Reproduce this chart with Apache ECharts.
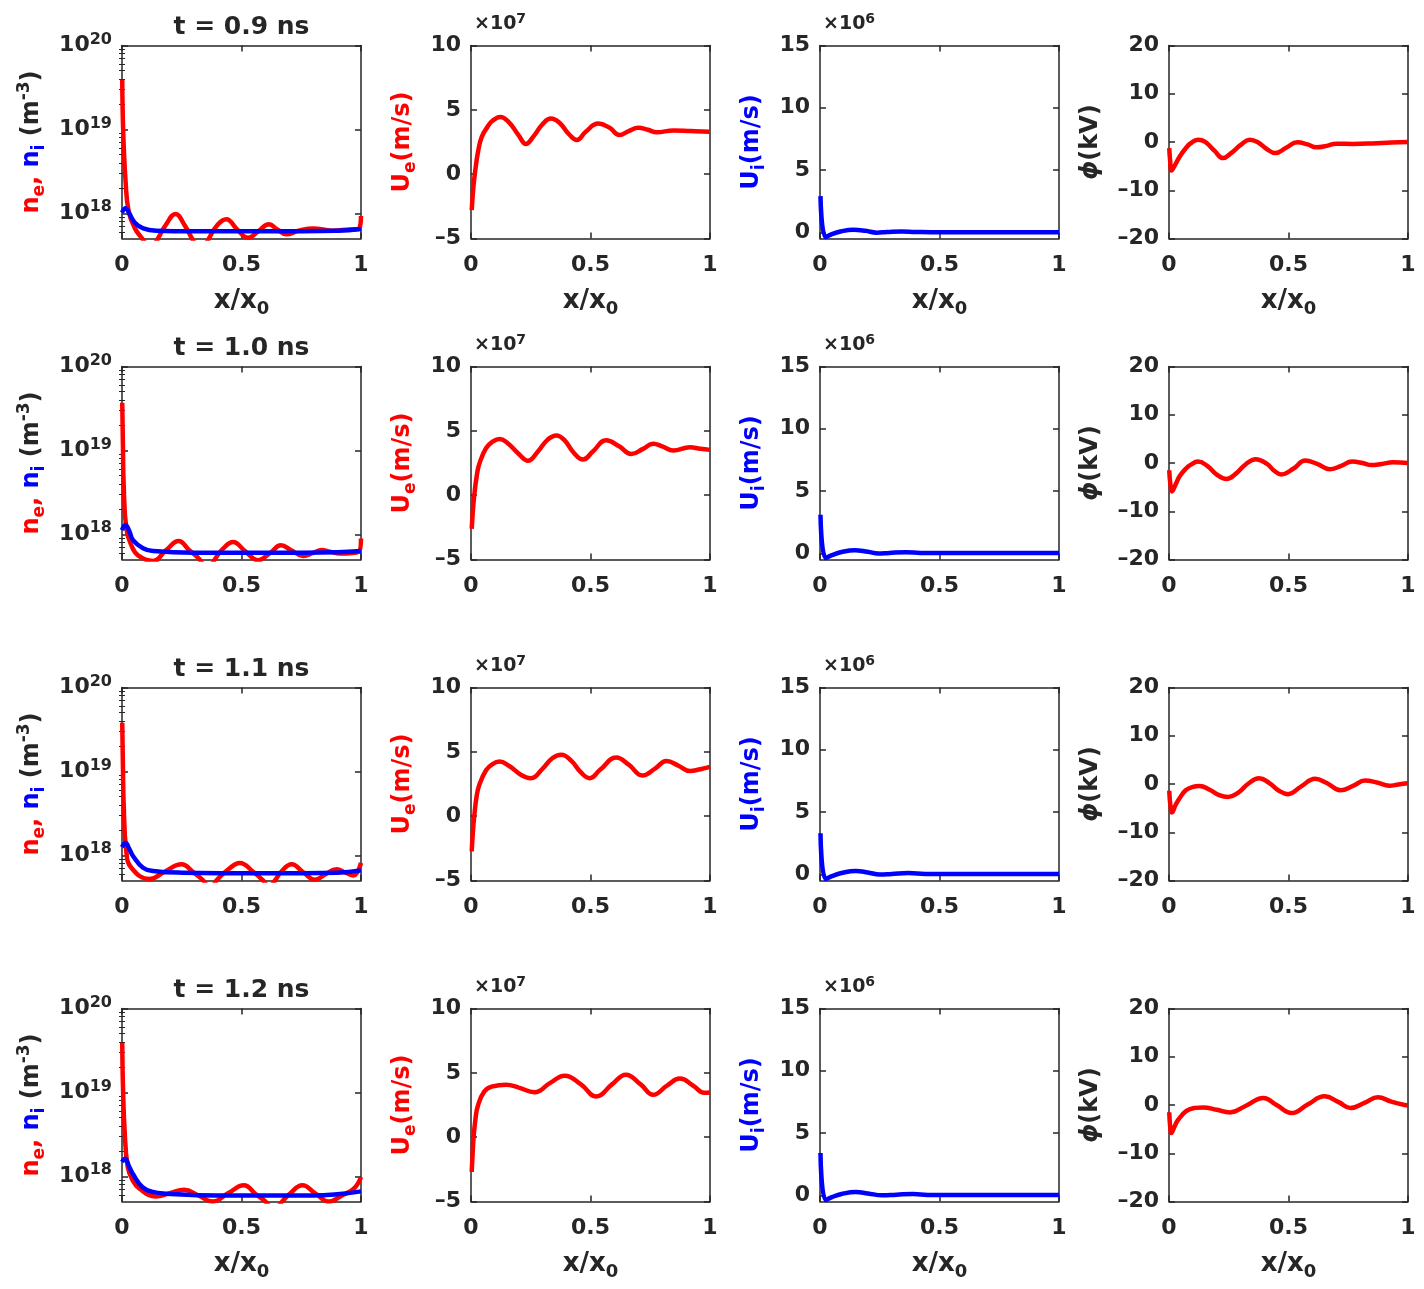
<!DOCTYPE html>
<html>
<head>
<meta charset="utf-8">
<script src="https://cdn.jsdelivr.net/npm/echarts@6/dist/echarts.min.js"></script>
<style>
  html, body { margin: 0; background: #fff; }
  #chart { width: 1424px; height: 1289px; }
</style>
</head>
<body>
<div id="chart"></div>
<script>
// time of each row
const times = ['0.9', '1.0', '1.1', '1.2'];

// tick values
const xTicks = [0, 0.5, 1];
const nTicks = [1e18, 1e19, 1e20];
const ueTicks = [-5, 0, 5, 10];
const uiTicks = [0, 5, 10, 15];
const phiTicks = [-20, -10, 0, 10, 20];

// electron density n_e (m^-3), [x/x0, n]
const ne09 = [[0.001,3.9e19],[0.005,9.5e18],[0.015,2.4e18],[0.028,1.05e18],[0.054,6.6e17],[0.089,4.8e17],[0.117,3.6e17],[0.145,4.7e17],[0.185,7.4e17],[0.224,9.8e17],[0.262,7.2e17],[0.298,4.7e17],[0.33,3.5e17],[0.36,4.8e17],[0.40,7.3e17],[0.437,8.5e17],[0.48,6.5e17],[0.527,5.1e17],[0.57,6.1e17],[0.615,7.4e17],[0.65,6.4e17],[0.687,5.6e17],[0.74,6.2e17],[0.80,6.6e17],[0.88,6.2e17],[0.95,6.4e17],[0.99,6.5e17],[1.0,9.3e17]];
const ne10 = [[0.001,3.7e19],[0.004,1.1e19],[0.007,3.9e18],[0.018,1.17e18],[0.039,7.4e17],[0.067,5.6e17],[0.13,4.8e17],[0.185,6.5e17],[0.237,8.3e17],[0.28,6.5e17],[0.325,5.0e17],[0.356,3.6e17],[0.388,5.0e17],[0.42,6.6e17],[0.465,8.1e17],[0.515,6.3e17],[0.57,4.9e17],[0.62,6.0e17],[0.665,7.4e17],[0.71,6.4e17],[0.758,5.5e17],[0.80,6.0e17],[0.835,6.5e17],[0.87,6.2e17],[0.912,5.9e17],[0.99,6.2e17],[1.0,8.9e17]];
const ne11 = [[0.001,3.8e19],[0.004,1.1e19],[0.007,4.1e18],[0.018,1.12e18],[0.039,7.1e17],[0.116,5.2e17],[0.18,6.4e17],[0.249,7.8e17],[0.30,6.2e17],[0.34,5.0e17],[0.37,3.9e17],[0.395,5.0e17],[0.44,6.6e17],[0.493,8.1e17],[0.55,6.3e17],[0.59,5.0e17],[0.615,4.2e17],[0.64,5.0e17],[0.665,6.3e17],[0.71,7.8e17],[0.76,6.2e17],[0.807,5.1e17],[0.85,5.9e17],[0.898,6.8e17],[0.935,6.2e17],[0.968,5.75e17],[1.0,8.1e17]];
const ne12 = [[0.001,3.9e19],[0.004,1.2e19],[0.011,3.5e18],[0.024,1.29e18],[0.045,8.9e17],[0.073,7.1e17],[0.142,5.75e17],[0.20,6.3e17],[0.26,6.9e17],[0.32,5.9e17],[0.38,5.0e17],[0.445,6.3e17],[0.51,7.8e17],[0.56,6.1e17],[0.60,5.0e17],[0.635,4.0e17],[0.67,5.0e17],[0.70,6.1e17],[0.755,7.8e17],[0.81,6.2e17],[0.866,5.0e17],[0.92,5.9e17],[0.97,7.1e17],[1.0,9.8e17]];

// ion density n_i (m^-3)
const ni09 = [[0.0,1.02e18],[0.015,1.15e18],[0.03,1.0e18],[0.054,7.7e17],[0.089,6.6e17],[0.145,6.2e17],[0.3,6.1e17],[0.6,6.1e17],[0.9,6.2e17],[1.0,6.5e17]];
const ni10 = [[0.0,1.12e18],[0.014,1.29e18],[0.03,1.1e18],[0.046,8.5e17],[0.088,6.8e17],[0.13,6.3e17],[0.3,6.0e17],[0.6,6.0e17],[0.9,6.1e17],[1.0,6.3e17]];
const ni11 = [[0.0,1.25e18],[0.015,1.4e18],[0.03,1.2e18],[0.046,9.8e17],[0.088,7.1e17],[0.13,6.5e17],[0.25,6.2e17],[0.6,6.1e17],[0.9,6.2e17],[1.0,6.6e17]];
const ni12 = [[0.0,1.48e18],[0.013,1.62e18],[0.03,1.3e18],[0.045,1.07e18],[0.086,7.4e17],[0.128,6.5e17],[0.184,6.2e17],[0.4,5.9e17],[0.8,5.9e17],[0.9,6.1e17],[1.0,6.6e17]];

// electron velocity U_e (x1e7 m/s)
const ue09 = [[0.003,-2.8],[0.01,-1.0],[0.018,0.3],[0.03,1.8],[0.045,2.9],[0.07,3.7],[0.09,4.15],[0.123,4.45],[0.16,4.0],[0.2,3.0],[0.23,2.35],[0.26,2.9],[0.3,3.9],[0.334,4.32],[0.37,4.0],[0.41,3.1],[0.443,2.65],[0.48,3.3],[0.533,3.93],[0.58,3.6],[0.621,3.05],[0.66,3.35],[0.70,3.6],[0.74,3.45],[0.777,3.25],[0.847,3.4],[0.92,3.35],[1,3.3]];
const ue10 = [[0.003,-2.61],[0.008,-1.2],[0.014,0.05],[0.024,1.5],[0.035,2.45],[0.063,3.65],[0.09,4.15],[0.119,4.37],[0.15,4.1],[0.2,3.2],[0.238,2.67],[0.28,3.4],[0.32,4.3],[0.357,4.64],[0.39,4.3],[0.43,3.3],[0.469,2.77],[0.51,3.4],[0.566,4.27],[0.62,3.8],[0.671,3.2],[0.72,3.6],[0.762,4.0],[0.8,3.8],[0.846,3.47],[0.916,3.73],[0.96,3.6],[1,3.52]];
const ue11 = [[0.003,-2.73],[0.008,-1.2],[0.014,0.08],[0.024,1.6],[0.035,2.44],[0.063,3.57],[0.09,4.05],[0.119,4.24],[0.16,3.9],[0.21,3.2],[0.249,2.95],[0.3,3.7],[0.34,4.5],[0.378,4.77],[0.42,4.3],[0.46,3.4],[0.497,2.95],[0.54,3.6],[0.608,4.56],[0.66,4.0],[0.717,3.16],[0.77,3.7],[0.818,4.29],[0.87,3.9],[0.916,3.51],[0.96,3.65],[1,3.83]];
const ue12 = [[0.003,-2.7],[0.007,-1.2],[0.011,0.03],[0.018,1.3],[0.028,2.38],[0.056,3.56],[0.091,3.95],[0.147,4.08],[0.2,3.85],[0.266,3.5],[0.33,4.2],[0.392,4.78],[0.46,4.1],[0.524,3.16],[0.59,4.1],[0.648,4.86],[0.71,4.1],[0.762,3.29],[0.82,4.0],[0.874,4.55],[0.93,4.0],[0.975,3.45],[1,3.48]];

// ion velocity U_i (x1e6 m/s)
const ui09 = [[0.002,2.9],[0.024,-0.38],[0.05,-0.15],[0.09,0.08],[0.14,0.2],[0.19,0.12],[0.237,-0.03],[0.28,0.02],[0.34,0.07],[0.4,0.03],[0.5,0.0],[0.7,0.01],[1,0.0]];
const ui10 = [[0.002,3.1],[0.024,-0.38],[0.05,-0.15],[0.09,0.1],[0.145,0.25],[0.2,0.12],[0.245,-0.02],[0.29,0.03],[0.36,0.08],[0.42,0.03],[0.5,0.02],[0.7,0.03],[1,0.02]];
const ui11 = [[0.002,3.3],[0.024,-0.38],[0.05,-0.15],[0.09,0.1],[0.15,0.27],[0.2,0.15],[0.25,-0.02],[0.3,0.03],[0.37,0.1],[0.44,0.03],[0.5,0.02],[0.7,0.03],[1,0.02]];
const ui12 = [[0.002,3.4],[0.024,-0.38],[0.05,-0.15],[0.09,0.1],[0.15,0.26],[0.2,0.15],[0.26,0.0],[0.32,0.05],[0.39,0.1],[0.45,0.03],[0.5,0.02],[0.7,0.03],[1,0.03]];

// potential phi (kV)
const phi09 = [[0.001,-1.25],[0.005,-4.0],[0.01,-5.9],[0.025,-4.8],[0.045,-3.0],[0.07,-1.3],[0.09,-0.3],[0.121,0.49],[0.15,0.1],[0.19,-1.8],[0.226,-3.34],[0.26,-2.3],[0.3,-0.6],[0.3375,0.49],[0.37,0.0],[0.41,-1.5],[0.445,-2.3],[0.49,-1.2],[0.537,-0.07],[0.58,-0.5],[0.616,-1.1],[0.66,-0.8],[0.70,-0.35],[0.77,-0.4],[0.85,-0.3],[0.93,-0.1],[1,0.0]];
const phi10 = [[0.001,-1.5],[0.006,-4.5],[0.0125,-5.9],[0.028,-4.4],[0.045,-2.7],[0.07,-1.2],[0.09,-0.4],[0.121,0.29],[0.16,-0.6],[0.2,-2.4],[0.24,-3.3],[0.28,-2.2],[0.32,-0.3],[0.363,0.79],[0.41,-0.2],[0.44,-1.6],[0.47,-2.36],[0.52,-1.2],[0.57,0.5],[0.62,-0.2],[0.672,-1.29],[0.72,-0.6],[0.766,0.29],[0.81,0.0],[0.847,-0.43],[0.89,-0.2],[0.937,0.14],[1,0.0]];
const phi11 = [[0.001,-1.4],[0.006,-4.5],[0.0125,-5.9],[0.028,-4.3],[0.045,-2.9],[0.07,-1.3],[0.1,-0.6],[0.128,-0.4],[0.17,-1.2],[0.21,-2.3],[0.247,-2.7],[0.29,-1.8],[0.33,0.0],[0.377,1.2],[0.42,0.2],[0.46,-1.4],[0.498,-2.1],[0.55,-0.6],[0.612,1.07],[0.66,0.2],[0.718,-1.3],[0.77,-0.4],[0.82,0.71],[0.87,0.3],[0.922,-0.36],[0.96,-0.1],[1,0.14]];
const phi12 = [[0.001,-1.5],[0.005,-4.5],[0.01,-5.8],[0.022,-4.6],[0.038,-3.1],[0.073,-1.2],[0.11,-0.6],[0.144,-0.5],[0.2,-1.0],[0.255,-1.53],[0.32,-0.2],[0.395,1.46],[0.45,0.0],[0.513,-1.67],[0.58,0.1],[0.651,1.8],[0.71,0.6],[0.76,-0.63],[0.82,0.5],[0.874,1.6],[0.93,0.7],[0.986,0.0],[1,-0.07]];

const neRows = [ne09, ne10, ne11, ne12];
const niRows = [ni09, ni10, ni11, ni12];
const ueRows = [ue09, ue10, ue11, ue12];
const uiRows = [ui09, ui10, ui11, ui12];
const phiRows = [phi09, phi10, phi11, phi12];

// layout
const FONT = 'DejaVu Sans';
const INK = '#262626';
const RED = '#ff0000';
const BLUE = '#0000ff';
const colLeft = [122, 471, 820, 1169];
const rowTop = [45.5, 366.5, 687.5, 1008.5];
const W = 239, H = 193;

// minor ticks of the log axis (2..9 x 10^k)
const logMinor = [];
for (let e = 17; e <= 19; e++) {
  for (let m = 2; m <= 9; m++) {
    const v = m * Math.pow(10, e);
    if (v > 5e17 && v < 1e20) logMinor.push(v);
  }
}

const dash = v => (v < 0 ? '\u2013' + (-v) : String(v));

const tickRich = {
  b: { fontSize: 22, fontWeight: 'bold', fontFamily: FONT, color: INK, lineHeight: 28 },
  s: { fontSize: 16, fontWeight: 'bold', fontFamily: FONT, color: INK, lineHeight: 16, verticalAlign: 'top' }
};

function nameStyle(color) {
  return { fontSize: 24, fontWeight: 'bold', fontFamily: FONT, color: color, lineHeight: 32 };
}
function subStyle(color) {
  return { fontSize: 17, fontWeight: 'bold', fontFamily: FONT, color: color, lineHeight: 22, verticalAlign: 'bottom' };
}
function supStyle(color) {
  return { fontSize: 17, fontWeight: 'bold', fontFamily: FONT, color: color, lineHeight: 20, verticalAlign: 'top' };
}

const yCfg = [
  {
    type: 'log', min: 5e17, max: 1e20, ticks: nTicks, minor: logMinor,
    fmt: v => '{b|10}{s|' + Math.round(Math.log10(v)) + '}',
    name: '{r|n}{rs|e}{r|, }{u|n}{us|i}{k| (m}{kp|-3}{k|)}',
    rich: { r: nameStyle(RED), rs: subStyle(RED), u: nameStyle(BLUE), us: subStyle(BLUE), k: nameStyle(INK), kp: supStyle(INK) },
    gap: 74
  },
  {
    type: 'value', min: -5, max: 10, interval: 5, ticks: ueTicks,
    fmt: v => '{b|' + dash(v) + '}',
    name: '{r|U}{rs|e}{r|(m/s)}',
    rich: { r: nameStyle(RED), rs: subStyle(RED) },
    gap: 52, exp: '7'
  },
  {
    type: 'value', min: -0.5, max: 15, ticks: uiTicks,
    fmt: v => '{b|' + dash(v) + '}',
    name: '{u|U}{us|i}{u|(m/s)}',
    rich: { u: nameStyle(BLUE), us: subStyle(BLUE) },
    gap: 52, exp: '6'
  },
  {
    type: 'value', min: -20, max: 20, interval: 10, ticks: phiTicks,
    fmt: v => '{b|' + dash(v) + '}',
    name: '{p|\u03d5}{k|(kV)}',
    rich: { p: Object.assign(nameStyle(INK), { fontStyle: 'italic' }), k: nameStyle(INK) },
    gap: 62
  }
];

const lineOf = r => [
  [[neRows[r], RED], [niRows[r], BLUE]],
  [[ueRows[r], RED]],
  [[uiRows[r], BLUE]],
  [[phiRows[r], RED]]
];

const option = {
  animation: false,
  backgroundColor: '#fff',
  grid: [], xAxis: [], yAxis: [], series: [], graphic: []
};

const axisLine = { show: true, onZero: false, lineStyle: { color: INK, width: 1.5 } };
const tickLine = { color: INK, width: 1.5 };

function xAxisDef(gi, pos, withLabels, withName) {
  const ax = {
    gridIndex: gi, type: 'value', position: pos, min: 0, max: 1, interval: 0.5,
    axisLine: axisLine,
    axisTick: { show: true, inside: true, length: 6, lineStyle: tickLine },
    axisLabel: { show: withLabels, margin: 13, formatter: v => '{b|' + v + '}', rich: tickRich },
    splitLine: { show: false }
  };
  if (withName) {
    ax.name = '{a|x/x}{s|0}';
    ax.nameLocation = 'middle';
    ax.nameGap = 46;
    ax.nameTextStyle = {
      rich: {
        a: { fontSize: 26, fontWeight: 'bold', fontFamily: FONT, color: INK, lineHeight: 34 },
        s: { fontSize: 18, fontWeight: 'bold', fontFamily: FONT, color: INK, lineHeight: 24, verticalAlign: 'bottom' }
      }
    };
  }
  return ax;
}

function yAxisDef(gi, cfg, pos, main) {
  const ax = {
    gridIndex: gi, type: cfg.type, position: pos, min: cfg.min, max: cfg.max,
    axisLine: axisLine,
    axisTick: { show: true, inside: true, length: 6, lineStyle: tickLine, customValues: cfg.ticks },
    axisLabel: { show: main, margin: 10, customValues: cfg.ticks, formatter: cfg.fmt, rich: tickRich },
    splitLine: { show: false }
  };
  if (cfg.type === 'log') ax.logBase = 10;
  if (main) {
    ax.name = cfg.name;
    ax.nameLocation = 'middle';
    ax.nameRotate = 90;
    ax.nameGap = cfg.gap;
    ax.nameTextStyle = { rich: cfg.rich };
  }
  return ax;
}

function minorAxisDef(gi, cfg, pos) {
  return {
    gridIndex: gi, type: cfg.type, logBase: 10, position: pos, min: cfg.min, max: cfg.max,
    axisLine: { show: false },
    axisTick: { show: true, inside: true, length: 3, lineStyle: { color: INK, width: 1 }, customValues: cfg.minor },
    axisLabel: { show: false, customValues: cfg.minor },
    splitLine: { show: false }
  };
}

for (let r = 0; r < 4; r++) {
  const lines = lineOf(r);
  for (let c = 0; c < 4; c++) {
    const cfg = yCfg[c];
    const gi = option.grid.length;
    option.grid.push({ left: colLeft[c], top: rowTop[r], width: W, height: H, outerBoundsMode: 'none' });

    const xi = option.xAxis.length;
    option.xAxis.push(xAxisDef(gi, 'bottom', true, r === 0 || r === 3));
    option.xAxis.push(xAxisDef(gi, 'top', false, false));

    const yi = option.yAxis.length;
    option.yAxis.push(yAxisDef(gi, cfg, 'left', true));
    option.yAxis.push(yAxisDef(gi, cfg, 'right', false));
    if (cfg.minor) {
      option.yAxis.push(minorAxisDef(gi, cfg, 'left'));
      option.yAxis.push(minorAxisDef(gi, cfg, 'right'));
    }

    lines[c].forEach(([data, color]) => {
      option.series.push({
        type: 'line', xAxisIndex: xi, yAxisIndex: yi, data: data,
        smooth: 0.45, showSymbol: false, symbol: 'none',
        clip: true, lineStyle: { color: color, width: 4.5 }
      });
    });

    if (cfg.exp) {
      option.graphic.push({
        type: 'text', x: colLeft[c] + 3, y: rowTop[r] - 21,
        style: {
          text: '{a|\u00d710}{s|' + cfg.exp + '}',
          textVerticalAlign: 'middle',
          rich: {
            a: { fontSize: 19, fontWeight: 'bold', fontFamily: FONT, fill: INK, color: INK, lineHeight: 24 },
            s: { fontSize: 14, fontWeight: 'bold', fontFamily: FONT, fill: INK, color: INK, lineHeight: 14, verticalAlign: 'top' }
          }
        }
      });
    }
  }
  option.graphic.push({
    type: 'text', x: colLeft[0] + W / 2, y: rowTop[r] - 18,
    style: {
      text: 't = ' + times[r] + ' ns',
      fontSize: 25, fontWeight: 'bold', fontFamily: FONT, fill: INK,
      textAlign: 'center', textVerticalAlign: 'middle'
    }
  });
}

const chart = echarts.init(document.getElementById('chart'), null, { renderer: 'canvas' });
chart.setOption(option);
</script>
</body>
</html>
